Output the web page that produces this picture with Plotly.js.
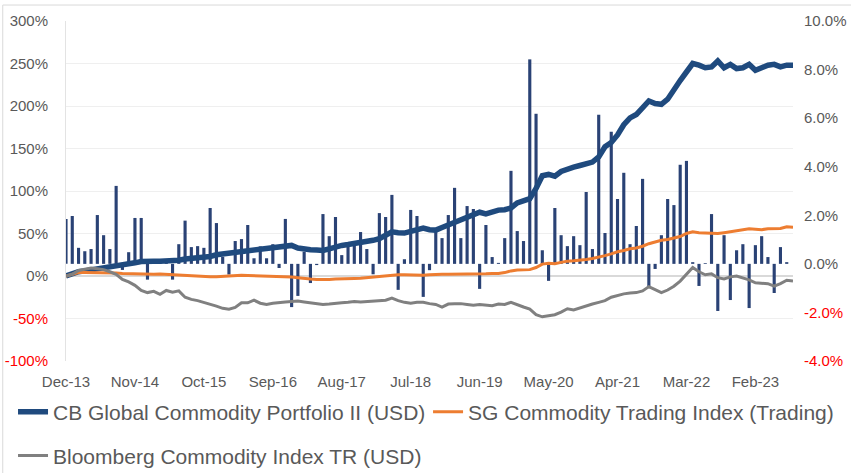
<!DOCTYPE html>
<html>
<head>
<meta charset="utf-8">
<script src="https://cdn.plot.ly/plotly-3.0.1.min.js"></script>
<style>html,body{margin:0;padding:0;background:#fff;}#chart{width:851px;height:473px;}</style>
</head>
<body>
<div id="chart"></div>
<script>
// Categories: monthly, Dec-13 .. Aug-23
var monthNames = ["Jan","Feb","Mar","Apr","May","Jun","Jul","Aug","Sep","Oct","Nov","Dec"];
var months = [];
for (var k = 0; k < 117; k++) {
  var m = (11 + k) % 12;
  var yr = 13 + Math.floor((11 + k) / 12);
  months.push(monthNames[m] + "-" + yr);
}
var tickLabels = ["Dec-13","Nov-14","Oct-15","Sep-16","Aug-17","Jul-18","Jun-19","May-20","Apr-21","Mar-22","Feb-23"];

// Monthly returns of CB Global Commodity Portfolio II (right axis, %)
var monthlyReturn = [
  1.85, 1.97, 0.66, 0.52, 0.61, 2.01, 1.18, 0.61, 3.21, -0.25,
  0.48, 1.89, 1.89, -0.65, 0.10, 0.10, 0.10, -0.65, 0.81, 1.78,
  0.69, 0.73, 0.66, 2.30, 1.68, 0.29, -0.44, 0.94, 1.02, 1.60,
  0.23, 0.72, 0.23, 0.81, -0.17, 1.85, -1.78, -1.32, 0.50, -0.79,
  -0.05, 2.05, 1.14, 1.93, 0.36, 0.70, 0.74, 1.31, 0.61, -0.43,
  2.09, 1.93, 2.84, -1.07, 0.19, 2.22, 1.97, -1.36, -0.26, 1.31,
  1.06, 2.01, 3.13, 1.06, 2.38, 2.26, -1.03, 1.60, 0.28, 0.04,
  1.06, 3.83, 1.35, 0.94, 8.42, 6.18, 0.56, -0.70, 2.30, 1.18,
  0.73, 1.14, 0.77, 2.96, 0.61, 6.14, 1.27, 5.44, 2.67, 3.75,
  0.81, 1.56, 3.50, -0.92, -0.21, 1.18, 2.67, 2.42, 4.08, 4.24,
  0.07, -0.91, 0.03, 2.05, -1.94, 1.18, -1.49, 0.56, 0.81, -1.82,
  0.77, 1.14, 0.28, -1.20, 0.69, 0.07, 0
];

// Cumulative performance (left axis, %)
var cbCum = [
  0, 3, 5, 6, 7, 8, 9.5, 10.5, 12, 13.5,
  14, 15.5, 17, 18, 17.5, 17.5, 17.5, 17.5, 18.5, 20,
  20.5, 21, 21.5, 23, 25, 26, 26, 28, 29, 30,
  30.5, 31.5, 32.5, 33.5, 34, 35, 36, 33, 31.5, 31,
  30.5, 30, 32, 34.5, 36, 37, 38, 39, 40, 42,
  44, 47.5, 52, 51, 50.5, 52.5, 55, 56.5, 54.5, 54,
  57, 60, 62.5, 66, 68.5, 72, 75, 73, 75.5, 77.5,
  78, 80, 86, 89, 91, 103, 118, 119.5, 117.5, 123,
  126, 128, 130, 131.5, 134, 140, 152, 157, 166, 178,
  186, 190, 197, 206, 203, 202, 208, 220, 230, 240,
  250, 248, 245, 246, 253, 245, 249, 244, 245, 249,
  242, 245, 248, 249, 246, 248, 248
];
var sgCum = [
  0, 2, 4, 4, 4, 4, 4, 3.5, 3.5, 3,
  2.7, 2.5, 2, 2, 2, 2.5, 2, 1.5, 1, 0.5,
  0, 0, -0.5, -1, -1, -0.5, 0, 0.5, 0.8, 0.5,
  0.3, 0, 0, 0, -0.3, -0.8, -1.2, -2, -3, -3.5,
  -4, -4.3, -4, -3.5, -3, -2.5, -2.8, -2.5, -1.8, -1.2,
  -0.5, 0.5, 1, 1.5, 1.5, 1.2, 1, 0.8, 1.5, 2,
  2, 2, 2, 2, 2.2, 2.4, 2.5, 2.7, 3, 3,
  4, 6, 7, 7, 7.5, 10, 14, 15, 14.5, 16,
  17.5, 18, 18.5, 19.5, 20.5, 22, 24, 26, 28.5, 30,
  32, 33, 35, 38, 40, 42, 43, 45, 46.5, 50,
  52, 51, 50.5, 50, 50, 51, 52, 53, 54, 55.5,
  55, 54.5, 55.5, 56, 56, 58, 57.5
];
var bcomCum = [
  0, 2, 6.5, 8, 9.5, 8.5, 7.5, 5, 2, -4,
  -7, -11, -17, -19.5, -18, -21.5, -17, -19, -17.5, -25,
  -27.5, -29, -31, -33.5, -35.5, -38, -39, -37, -31.5, -31.5,
  -28.5, -32, -33.5, -32, -31, -30.5, -30, -29.5, -30.5, -31.5,
  -32.5, -33.5, -33, -32, -31.5, -31, -30, -30.5, -30, -29.5,
  -29, -28.5, -26, -29, -31, -32, -31, -31, -32.5, -33.5,
  -36.5, -33, -32.5, -32.5, -33.5, -34.5, -33.5, -34.5, -35, -33,
  -33.5, -31, -34, -36.5, -39, -45.5, -48, -47, -45.5, -42.5,
  -38.5, -40, -37.5, -35.5, -33, -31, -29, -25, -23, -21,
  -20, -19.5, -17.5, -12.5, -16, -19.5, -16.5, -12, -6, 2,
  10, 5, 1.5, 2.5, -2, -3.5, -1, 0, -2, -4.5,
  -8, -8.5, -9, -12, -9, -5, -6
];

var leftTicks = [-100, -50, 0, 50, 100, 150, 200, 250, 300];
var rightTicks = [-4, -2, 0, 2, 4, 6, 8, 10];

function red(s){ return '<span style="color:#ff0000">' + s + '</span>'; }
var leftText = leftTicks.map(function(v){ var s = v + '%'; return v < 0 ? red(s) : s; });
var rightText = rightTicks.map(function(v){ var s = v.toFixed(1) + '%'; return v < 0 ? red(s) : s; });

var FONT = "'Liberation Sans', Arial, sans-serif";
var TXT = '#595959';

var traces = [
  {
    type: 'bar', x: months, y: monthlyReturn, yaxis: 'y', xaxis: 'x',
    width: 0.5, showlegend: false, hoverinfo: 'skip',
    marker: { color: '#2a4275', line: { width: 0 } }
  },
  {
    type: 'scatter', mode: 'lines', x: months, y: cbCum, yaxis: 'y2',
    name: 'CB Global Commodity Portfolio II (USD)', legend: 'legend',
    line: { color: '#1f4a7e', width: 5.5 }
  },
  {
    type: 'scatter', mode: 'lines', x: months, y: sgCum, yaxis: 'y2',
    name: 'SG Commodity Trading Index (Trading)', legend: 'legend3',
    line: { color: '#ed7d31', width: 3 }
  },
  {
    type: 'scatter', mode: 'lines', x: months, y: bcomCum, yaxis: 'y2',
    name: 'Bloomberg Commodity Index TR (USD)', legend: 'legend2',
    line: { color: '#808080', width: 3 }
  }
];

function legendAt(xc, yc) {
  return {
    orientation: 'h', xref: 'container', yref: 'container',
    x: xc, xanchor: 'left', y: yc, yanchor: 'middle',
    font: { family: FONT, size: 21, color: TXT }, bgcolor: 'rgba(0,0,0,0)'
  };
}

var layout = {
  width: 851, height: 473,
  margin: { l: 66, r: 58, t: 21, b: 112 },
  paper_bgcolor: '#ffffff', plot_bgcolor: '#ffffff',
  font: { family: FONT, color: TXT, size: 15 },
  bargap: 0.5,
  xaxis: {
    type: 'category', range: [0, 116],
    tickmode: 'array', tickvals: tickLabels, ticktext: tickLabels,
    showgrid: false, zeroline: false, showline: false, ticks: '',
    tickfont: { family: FONT, size: 15, color: TXT },
    ticklabelstandoff: 10, fixedrange: true
  },
  yaxis: {
    side: 'right', range: [-4, 10],
    tickmode: 'array', tickvals: rightTicks, ticktext: rightText,
    showgrid: false, zeroline: false, showline: false, ticks: '',
    tickfont: { family: FONT, size: 15, color: TXT },
    ticklabelstandoff: 10
  },
  yaxis2: {
    overlaying: 'y', side: 'left', range: [-100, 300],
    tickmode: 'array', tickvals: leftTicks, ticktext: leftText,
    showgrid: true, gridcolor: '#efefef', gridwidth: 1,
    zeroline: true, zerolinecolor: '#d9d9d9', zerolinewidth: 2,
    showline: true, linecolor: '#e3e3e3', linewidth: 1, ticks: '',
    tickfont: { family: FONT, size: 15, color: TXT },
    ticklabelstandoff: 14
  },
  legend: legendAt(0.0153, 0.129),
  legend3: legendAt(0.503, 0.129),
  legend2: legendAt(0.0153, 0.036),
  shapes: [
    { type: 'line', xref: 'paper', yref: 'paper', x0: -0.087, x1: 1.08, y0: 1.047, y1: 1.047,
      line: { color: '#d9d9d9', width: 1 } },
    { type: 'line', xref: 'paper', yref: 'paper', x0: -0.087, x1: -0.087, y0: 1.047, y1: -0.33,
      line: { color: '#d9d9d9', width: 1 } }
  ]
};

Plotly.newPlot('chart', traces, layout, { staticPlot: true, displayModeBar: false });
</script>
</body>
</html>
